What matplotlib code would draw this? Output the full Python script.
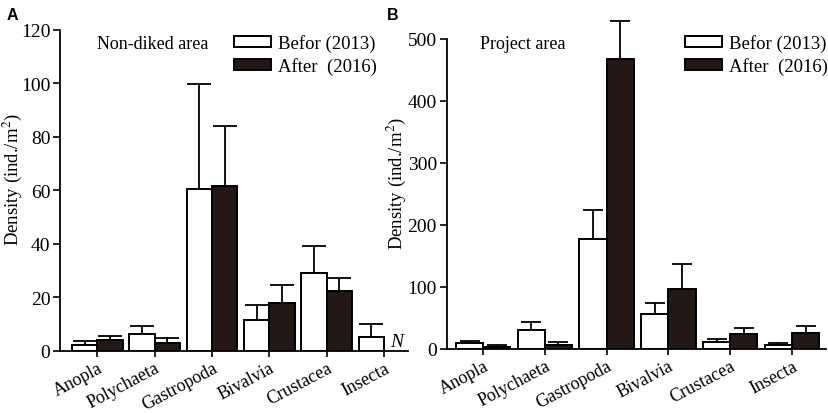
import numpy as np
import matplotlib.pyplot as plt
import matplotlib.transforms as mtransforms

plt.rcParams['font.family'] = ['Liberation Serif', 'DejaVu Serif']
plt.rcParams['mathtext.fontset'] = 'stix'

#Data
taxa = ['Anopla', 'Polychaeta', 'Gastropoda', 'Bivalvia', 'Crustacea', 'Insecta']

# Non-diked area (panel A)
a_before = [2.2, 6.2, 60.4, 11.5, 28.9, 5.0]
a_before_err = [1.3, 3.0, 39.2, 5.4, 10.2, 5.1]
a_after = [4.1, 3.0, 61.5, 17.8, 22.3, np.nan]
a_after_err = [1.5, 1.6, 22.4, 6.6, 4.8, np.nan]

# Project area (panel B)
b_before = [8.6, 30.1, 176.5, 56.0, 10.2, 6.5]
b_before_err = [3.8, 13.5, 47.9, 18.3, 5.4, 3.2]
b_after = [3.2, 6.5, 467.7, 96.3, 24.2, 25.3]
b_after_err = [2.7, 4.8, 61.9, 40.9, 9.7, 11.3]

dark = '#231815'
W = 0.44

fig = plt.figure(figsize=(8.29, 4.14), dpi=100)

def panel(rect, before, before_err, after, after_err, ymax, ystep, xlim, title, tpos,
          legx, legy, labx, capsize):
    ax = fig.add_axes(rect)
    x = np.arange(len(taxa))
    ax.bar(x - W/2, before, W, color='white', edgecolor='black', linewidth=1.4, zorder=2)
    ax.bar(x + W/2, after, W, color=dark, edgecolor='black', linewidth=1.4, zorder=2)
    for xs, v, e in [(x - W/2, before, before_err), (x + W/2, after, after_err)]:
        v = np.array(v); e = np.array(e)
        ok = ~np.isnan(v)
        ax.errorbar(xs[ok], v[ok], yerr=[np.zeros(ok.sum()), e[ok]], fmt='none',
                    ecolor='black', elinewidth=1.3, capsize=capsize, capthick=1.3,
                    zorder=1, clip_on=False)
    ax.set_xlim(*xlim)
    ax.set_ylim(0, ymax)
    ax.set_yticks(np.arange(0, ymax + 1, ystep))
    ax.set_xticks(x)
    ax.set_xticklabels(taxa, rotation=28, ha='right', va='top', rotation_mode='anchor',
                       fontsize=13)
    off = mtransforms.ScaledTranslation(9/100, 0, fig.dpi_scale_trans)
    for lab in ax.get_xticklabels():
        lab.set_transform(lab.get_transform() + off)
    ax.tick_params(axis='y', labelsize=14, length=5, width=1.2, direction='out', pad=2)
    ax.tick_params(axis='x', length=4, width=1.2, direction='out', pad=2)
    for s in ['top', 'right']:
        ax.spines[s].set_visible(False)
    for s in ['left', 'bottom']:
        ax.spines[s].set_linewidth(1.3)
    ax.set_ylabel('Density (ind./m$^2$)', fontsize=13.5)
    ax.yaxis.set_label_coords(labx, 0.535)
    ax.text(tpos[0], tpos[1], title, transform=ax.transAxes, fontsize=13,
            va='center', ha='left')
    ax.legend(['Befor (2013)', 'After  (2016)'], loc='upper right',
              bbox_to_anchor=(legx, legy), frameon=False, fontsize=13.5,
              handlelength=2.0, handleheight=0.55, handletextpad=0.35,
              labelspacing=0.25, borderaxespad=0, borderpad=0)
    return ax

axA = panel([0.0724, 0.1505, 0.4198, 0.7753], a_before, a_before_err, a_after, a_after_err,
            120, 20, (-0.65, 5.42), 'Non-diked area', (0.106, 0.958), 0.91, 0.985, -0.103, 8.5)
axA.text(5 + W/2, 0.3, 'N', style='italic', fontsize=14, ha='center', va='bottom')

axB = panel([0.5388, 0.1553, 0.4576, 0.7481], b_before, b_before_err, b_after, b_after_err,
            500, 100, (-0.59, 5.55), 'Project area', (0.087, 0.985), 1.005, 1.015, -0.103, 7.5)

fig.text(0.0085, 0.963, 'A', fontsize=11.5, fontweight='bold', family='Liberation Sans',
         va='center')
fig.text(0.467, 0.963, 'B', fontsize=11.5, fontweight='bold', family='Liberation Sans',
         va='center')

fig.savefig('out.png', dpi=100)
